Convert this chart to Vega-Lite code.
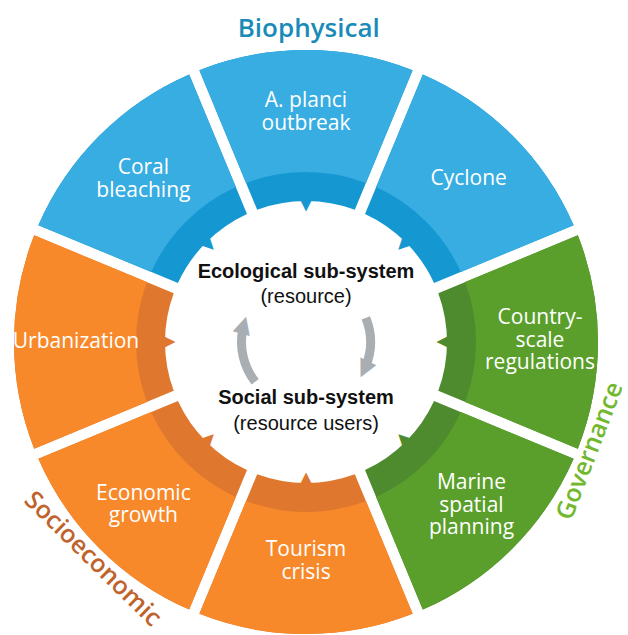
{
  "$schema": "https://vega.github.io/schema/vega-lite/v6.json",
  "width": 612,
  "height": 584,
  "autosize": "none",
  "padding": {"left": 0, "top": 50, "right": 16, "bottom": 1},
  "background": "white",
  "config": {"view": {"stroke": null}},
  "datasets": {
    "segments": [
      {"factor": "A. planci\noutbreak", "group": "Biophysical", "start": -22.5, "mid": 0, "end": 22.5},
      {"factor": "Cyclone", "group": "Biophysical", "start": 22.5, "mid": 45, "end": 67.5},
      {"factor": "Country-\nscale\nregulations", "group": "Governance", "start": 67.5, "mid": 90, "end": 112.5},
      {"factor": "Marine\nspatial\nplanning", "group": "Governance", "start": 112.5, "mid": 135, "end": 157.5},
      {"factor": "Tourism\ncrisis", "group": "Socioeconomic", "start": 157.5, "mid": 180, "end": 202.5},
      {"factor": "Economic\ngrowth", "group": "Socioeconomic", "start": 202.5, "mid": 225, "end": 247.5},
      {"factor": "Urbanization", "group": "Socioeconomic", "start": 247.5, "mid": 270, "end": 292.5},
      {"factor": "Coral\nbleaching", "group": "Biophysical", "start": 292.5, "mid": 315, "end": 337.5}
    ],
    "groups": [
      {"group": "Biophysical", "deg": 0.5},
      {"group": "Governance", "deg": 111},
      {"group": "Socioeconomic", "deg": 224.5}
    ],
    "center": [
      {"line": "Ecological sub-system", "note": "(resource)", "deg": 0},
      {"line": "Social sub-system", "note": "(resource users)", "deg": 180}
    ],
    "cycle": [
      {"start": 232, "end": 282, "head": 286},
      {"start": 68, "end": 112, "head": 116}
    ]
  },
  "resolve": {"scale": {"color": "independent", "angle": "independent"}},
  "layer": [
    {
      "data": {"name": "segments"},
      "mark": {"type": "arc", "innerRadius": 141, "outerRadius": 292, "padAngle": 0.034},
      "encoding": {
        "theta": {"field": "start", "type": "quantitative", "stack": null, "scale": {"domain": [0, 360], "range": [0, 6.283185307179586]}},
        "theta2": {"field": "end"},
        "color": {"field": "group", "type": "nominal", "legend": null,
          "scale": {"domain": ["Biophysical", "Governance", "Socioeconomic"], "range": ["#1598d1", "#4e8a2e", "#e0772e"]}}
      }
    },
    {
      "data": {"name": "segments"},
      "mark": {"type": "arc", "innerRadius": 170, "outerRadius": 292, "padAngle": 0.0325},
      "encoding": {
        "theta": {"field": "start", "type": "quantitative", "stack": null, "scale": {"domain": [0, 360], "range": [0, 6.283185307179586]}},
        "theta2": {"field": "end"},
        "color": {"field": "group", "type": "nominal", "legend": null,
          "scale": {"domain": ["Biophysical", "Governance", "Socioeconomic"], "range": ["#38ade2", "#5a9f2b", "#f7892b"]}}
      }
    },
    {
      "data": {"name": "segments"},
      "mark": {"type": "text", "radius": 139, "fontSize": 20, "font": "DejaVu Sans", "align": "center", "baseline": "middle"},
      "encoding": {
        "theta": {"field": "mid", "type": "quantitative", "scale": {"domain": [0, 360], "range": [0, 6.283185307179586]}},
        "angle": {"field": "mid", "type": "quantitative", "scale": {"domain": [0, 360], "range": [0, 360]}},
        "text": {"value": "▼"},
        "color": {"field": "group", "type": "nominal", "legend": null,
          "scale": {"domain": ["Biophysical", "Governance", "Socioeconomic"], "range": ["#1598d1", "#4e8a2e", "#e0772e"]}}
      }
    },
    {
      "data": {"name": "segments"},
      "transform": [{"filter": "split(datum.factor, '\\n').length === 1"}],
      "mark": {"type": "text", "radius": 230, "font": "Open Sans", "fontSize": 21, "lineBreak": "\n", "lineHeight": 22.5, "color": "white", "align": "center", "baseline": "middle"},
      "encoding": {
        "theta": {"field": "mid", "type": "quantitative", "scale": {"domain": [0, 360], "range": [0, 6.283185307179586]}},
        "text": {"field": "factor"}
      }
    },
    {
      "data": {"name": "segments"},
      "transform": [{"filter": "split(datum.factor, '\\n').length === 2 && datum.mid !== 180"}],
      "mark": {"type": "text", "radius": 230, "dy": -11, "font": "Open Sans", "fontSize": 21, "lineBreak": "\n", "lineHeight": 22.5, "color": "white", "align": "center", "baseline": "middle"},
      "encoding": {
        "theta": {"field": "mid", "type": "quantitative", "scale": {"domain": [0, 360], "range": [0, 6.283185307179586]}},
        "text": {"field": "factor"}
      }
    },
    {
      "data": {"name": "segments"},
      "transform": [{"filter": "datum.mid === 180"}],
      "mark": {"type": "text", "radius": 219, "dy": -11, "font": "Open Sans", "fontSize": 21, "lineBreak": "\n", "lineHeight": 22.5, "color": "white", "align": "center", "baseline": "middle"},
      "encoding": {
        "theta": {"field": "mid", "type": "quantitative", "scale": {"domain": [0, 360], "range": [0, 6.283185307179586]}},
        "text": {"field": "factor"}
      }
    },
    {
      "data": {"name": "segments"},
      "transform": [{"filter": "split(datum.factor, '\\n').length === 3"}],
      "mark": {"type": "text", "radius": 234, "dy": -24, "font": "Open Sans", "fontSize": 21, "lineBreak": "\n", "lineHeight": 22.5, "color": "white", "align": "center", "baseline": "middle"},
      "encoding": {
        "theta": {"field": "mid", "type": "quantitative", "scale": {"domain": [0, 360], "range": [0, 6.283185307179586]}},
        "text": {"field": "factor"}
      }
    },
    {
      "data": {"name": "groups"},
      "transform": [{"filter": "datum.group === 'Biophysical'"}],
      "mark": {"type": "text", "radius": 313, "font": "Open Sans", "fontSize": 26, "fontWeight": 600, "align": "center", "baseline": "middle"},
      "encoding": {
        "theta": {"field": "deg", "type": "quantitative", "scale": {"domain": [0, 360], "range": [0, 6.283185307179586]}},
        "text": {"field": "group"},
        "color": {"field": "group", "type": "nominal", "legend": null,
          "scale": {"domain": ["Biophysical", "Governance", "Socioeconomic"], "range": ["#1a8bb8", "#72b82f", "#c0622c"]}}
      }
    },
    {
      "data": {"name": "groups"},
      "transform": [{"filter": "datum.group !== 'Biophysical'"}],
      "mark": {"type": "text", "radius": 304, "font": "Open Sans", "fontSize": 25, "fontWeight": 600, "align": "center", "baseline": "middle"},
      "encoding": {
        "theta": {"field": "deg", "type": "quantitative", "scale": {"domain": [0, 360], "range": [0, 6.283185307179586]}},
        "angle": {"field": "deg", "type": "quantitative", "scale": {"domain": [0, 360], "range": [-180, 180]}},
        "text": {"field": "group"},
        "color": {"field": "group", "type": "nominal", "legend": null,
          "scale": {"domain": ["Biophysical", "Governance", "Socioeconomic"], "range": ["#1a8bb8", "#72b82f", "#c0622c"]}}
      }
    },
    {
      "data": {"name": "cycle"},
      "mark": {"type": "arc", "innerRadius": 60, "outerRadius": 69, "color": "#a9aeb3"},
      "encoding": {
        "theta": {"field": "start", "type": "quantitative", "stack": null, "scale": {"domain": [0, 360], "range": [0, 6.283185307179586]}},
        "theta2": {"field": "end"}
      }
    },
    {
      "data": {"name": "cycle"},
      "mark": {"type": "text", "radius": 64.5, "font": "DejaVu Sans", "fontSize": 23, "color": "#a9aeb3", "align": "center", "baseline": "middle"},
      "encoding": {
        "theta": {"field": "head", "type": "quantitative", "scale": {"domain": [0, 360], "range": [0, 6.283185307179586]}},
        "angle": {"field": "head", "type": "quantitative", "scale": {"domain": [0, 360], "range": [90, 450]}},
        "text": {"value": "▲"}
      }
    },
    {
      "data": {"name": "center"},
      "mark": {"type": "text", "radius": 63, "dy": -7, "font": "Liberation Sans", "fontSize": 20, "fontWeight": "bold", "color": "#111111", "align": "center", "baseline": "middle"},
      "encoding": {
        "theta": {"field": "deg", "type": "quantitative", "scale": {"domain": [0, 360], "range": [0, 6.283185307179586]}},
        "text": {"field": "line"}
      }
    },
    {
      "data": {"name": "center"},
      "mark": {"type": "text", "radius": 63.5, "dy": 18.5, "font": "Liberation Sans", "fontSize": 20, "color": "#111111", "align": "center", "baseline": "middle"},
      "encoding": {
        "theta": {"field": "deg", "type": "quantitative", "scale": {"domain": [0, 360], "range": [0, 6.283185307179586]}},
        "text": {"field": "note"}
      }
    }
  ]
}
